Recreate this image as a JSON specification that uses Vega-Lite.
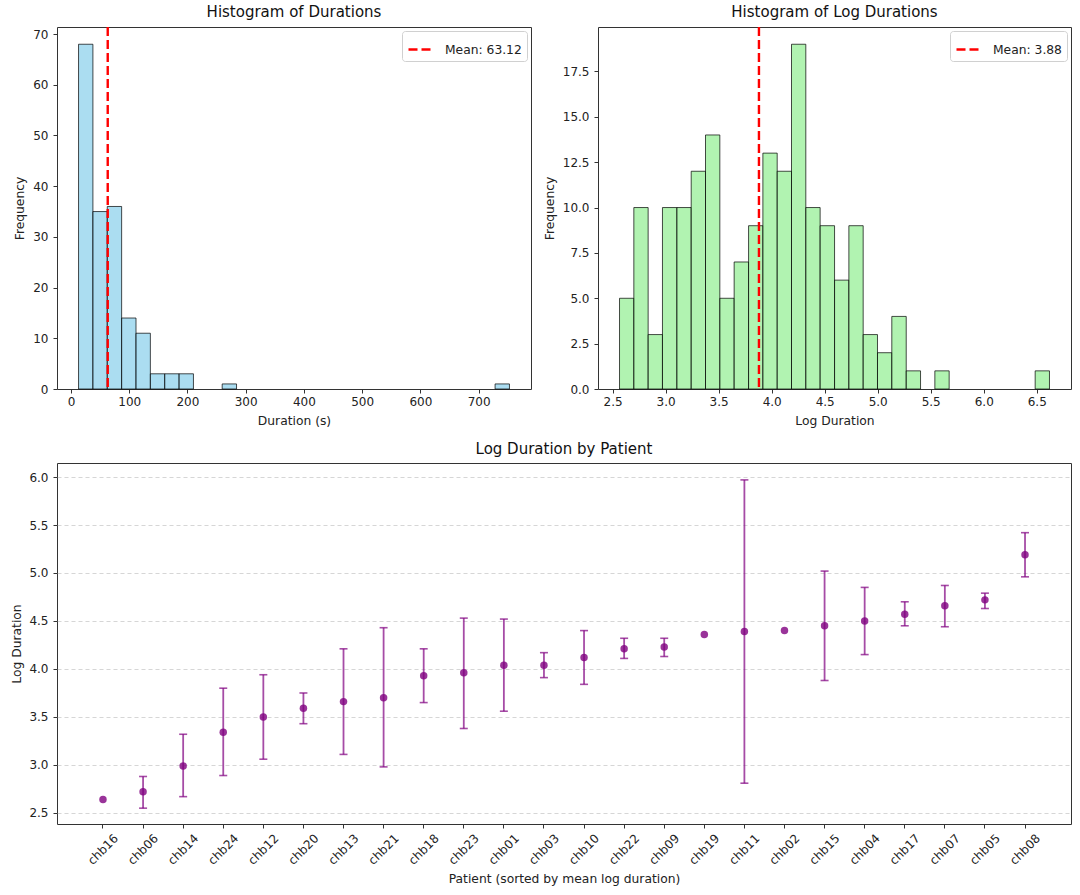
{
  "$schema": "https://vega.github.io/schema/vega-lite/v6.json",
  "description": "Seizure durations: histograms and log duration by patient",
  "padding": {"left": 10, "top": 4, "right": 9, "bottom": 5},
  "background": "white",
  "config": {
    "font": "DejaVu Sans",
    "view": {"stroke": "#333", "strokeWidth": 1},
    "title": {"fontSize": 15, "fontWeight": "normal", "color": "#111", "anchor": "middle", "offset": 6},
    "axis": {
      "domain": false,
      "grid": false,
      "tickSize": 4,
      "tickColor": "#333",
      "labelFontSize": 12,
      "labelColor": "#222",
      "titleFontSize": 12.3,
      "titleFontWeight": "normal",
      "titleColor": "#222"
    },
    "axisX": {"labelPadding": 3, "titlePadding": 7},
    "axisY": {"labelPadding": 5, "titlePadding": 5},
    "legend": {
      "orient": "top-right",
      "offset": 4,
      "padding": 5,
      "strokeColor": "#d0d0d0",
      "fillColor": "white",
      "cornerRadius": 3,
      "labelFontSize": 12.3,
      "labelColor": "#222",
      "symbolType": "stroke",
      "symbolSize": 576,
      "symbolStrokeWidth": 2.4,
      "symbolDash": [9, 4],
      "labelOffset": 11
    }
  },
  "datasets": {
    "durBins": [
      {"start": 13.0, "end": 37.67, "count": 68},
      {"start": 37.67, "end": 62.33, "count": 35},
      {"start": 62.33, "end": 87.0, "count": 36},
      {"start": 87.0, "end": 111.67, "count": 14},
      {"start": 111.67, "end": 136.33, "count": 11},
      {"start": 136.33, "end": 161.0, "count": 3},
      {"start": 161.0, "end": 185.67, "count": 3},
      {"start": 185.67, "end": 210.33, "count": 3},
      {"start": 259.67, "end": 284.33, "count": 1},
      {"start": 728.33, "end": 753.0, "count": 1}
    ],
    "logBins": [
      {"start": 2.565, "end": 2.700, "count": 5},
      {"start": 2.700, "end": 2.835, "count": 10},
      {"start": 2.835, "end": 2.970, "count": 3},
      {"start": 2.970, "end": 3.106, "count": 10},
      {"start": 3.106, "end": 3.241, "count": 10},
      {"start": 3.241, "end": 3.376, "count": 12},
      {"start": 3.376, "end": 3.511, "count": 14},
      {"start": 3.511, "end": 3.646, "count": 5},
      {"start": 3.646, "end": 3.782, "count": 7},
      {"start": 3.782, "end": 3.917, "count": 9},
      {"start": 3.917, "end": 4.052, "count": 13},
      {"start": 4.052, "end": 4.187, "count": 12},
      {"start": 4.187, "end": 4.322, "count": 19},
      {"start": 4.322, "end": 4.457, "count": 10},
      {"start": 4.457, "end": 4.593, "count": 9},
      {"start": 4.593, "end": 4.728, "count": 6},
      {"start": 4.728, "end": 4.863, "count": 9},
      {"start": 4.863, "end": 4.998, "count": 3},
      {"start": 4.998, "end": 5.133, "count": 2},
      {"start": 5.133, "end": 5.269, "count": 4},
      {"start": 5.269, "end": 5.404, "count": 1},
      {"start": 5.539, "end": 5.674, "count": 1},
      {"start": 6.485, "end": 6.620, "count": 1}
    ],
    "patients": [
      {"patient": "chb16", "mean": 2.64, "lo": null, "hi": null},
      {"patient": "chb06", "mean": 2.72, "lo": 2.55, "hi": 2.88},
      {"patient": "chb14", "mean": 2.99, "lo": 2.67, "hi": 3.32},
      {"patient": "chb24", "mean": 3.34, "lo": 2.89, "hi": 3.80},
      {"patient": "chb12", "mean": 3.50, "lo": 3.06, "hi": 3.94},
      {"patient": "chb20", "mean": 3.59, "lo": 3.43, "hi": 3.75},
      {"patient": "chb13", "mean": 3.66, "lo": 3.11, "hi": 4.21},
      {"patient": "chb21", "mean": 3.70, "lo": 2.98, "hi": 4.43},
      {"patient": "chb18", "mean": 3.93, "lo": 3.65, "hi": 4.21},
      {"patient": "chb23", "mean": 3.96, "lo": 3.38, "hi": 4.53},
      {"patient": "chb01", "mean": 4.04, "lo": 3.56, "hi": 4.52},
      {"patient": "chb03", "mean": 4.04, "lo": 3.91, "hi": 4.17},
      {"patient": "chb10", "mean": 4.12, "lo": 3.84, "hi": 4.40},
      {"patient": "chb22", "mean": 4.21, "lo": 4.11, "hi": 4.32},
      {"patient": "chb09", "mean": 4.23, "lo": 4.13, "hi": 4.32},
      {"patient": "chb19", "mean": 4.36, "lo": null, "hi": null},
      {"patient": "chb11", "mean": 4.39, "lo": 2.81, "hi": 5.97},
      {"patient": "chb02", "mean": 4.40, "lo": null, "hi": null},
      {"patient": "chb15", "mean": 4.45, "lo": 3.88, "hi": 5.02},
      {"patient": "chb04", "mean": 4.50, "lo": 4.15, "hi": 4.85},
      {"patient": "chb17", "mean": 4.57, "lo": 4.45, "hi": 4.70},
      {"patient": "chb07", "mean": 4.66, "lo": 4.44, "hi": 4.87},
      {"patient": "chb05", "mean": 4.72, "lo": 4.63, "hi": 4.79},
      {"patient": "chb08", "mean": 5.19, "lo": 4.96, "hi": 5.42}
    ]
  },
  "spacing": 14,
  "vconcat": [
    {
      "spacing": 10,
      "hconcat": [
        {
          "title": "Histogram of Durations",
          "width": 474,
          "height": 362,
          "layer": [
            {
              "data": {"name": "durBins"},
              "mark": {"type": "rect", "fill": "#87ceeb", "fillOpacity": 0.7, "stroke": "black", "strokeOpacity": 0.7, "strokeWidth": 1},
              "encoding": {
                "x": {
                  "field": "start",
                  "type": "quantitative",
                  "title": "Duration (s)",
                  "scale": {"domain": [-24, 790], "nice": false, "zero": false},
                  "axis": {"values": [0, 100, 200, 300, 400, 500, 600, 700]}
                },
                "x2": {"field": "end"},
                "y": {
                  "field": "count",
                  "type": "quantitative",
                  "title": "Frequency",
                  "scale": {"domain": [0, 71.4], "nice": false},
                  "axis": {"values": [0, 10, 20, 30, 40, 50, 60, 70], "titlePadding": 6}
                },
                "y2": {"datum": 0}
              }
            },
            {
              "data": {"values": [{"mean": 63.12, "label": "Mean: 63.12"}]},
              "mark": {"type": "rule", "strokeWidth": 2.4, "strokeDash": [9, 4]},
              "encoding": {
                "x": {"field": "mean", "type": "quantitative"},
                "color": {
                  "field": "label",
                  "type": "nominal",
                  "scale": {"range": ["red"]},
                  "legend": {"title": null}
                }
              }
            }
          ]
        },
        {
          "title": "Histogram of Log Durations",
          "width": 473,
          "height": 362,
          "layer": [
            {
              "data": {"name": "logBins"},
              "mark": {"type": "rect", "fill": "#90ee90", "fillOpacity": 0.7, "stroke": "black", "strokeOpacity": 0.7, "strokeWidth": 1},
              "encoding": {
                "x": {
                  "field": "start",
                  "type": "quantitative",
                  "title": "Log Duration",
                  "scale": {"domain": [2.362, 6.823], "nice": false, "zero": false},
                  "axis": {"values": [2.5, 3.0, 3.5, 4.0, 4.5, 5.0, 5.5, 6.0, 6.5], "format": ".1f"}
                },
                "x2": {"field": "end"},
                "y": {
                  "field": "count",
                  "type": "quantitative",
                  "title": "Frequency",
                  "scale": {"domain": [0, 19.95], "nice": false},
                  "axis": {"values": [0, 2.5, 5, 7.5, 10, 12.5, 15, 17.5], "format": ".1f", "titlePadding": 6}
                },
                "y2": {"datum": 0}
              }
            },
            {
              "data": {"values": [{"mean": 3.88, "label": "Mean: 3.88"}]},
              "mark": {"type": "rule", "strokeWidth": 2.4, "strokeDash": [9, 4]},
              "encoding": {
                "x": {"field": "mean", "type": "quantitative"},
                "color": {
                  "field": "label",
                  "type": "nominal",
                  "scale": {"range": ["red"]},
                  "legend": {"title": null}
                }
              }
            }
          ]
        }
      ],
      "resolve": {"scale": {"color": "independent"}, "legend": {"color": "independent"}}
    },
    {
      "title": "Log Duration by Patient",
      "width": 1014,
      "height": 361,
      "data": {"name": "patients"},
      "encoding": {
        "x": {
          "field": "patient",
          "type": "nominal",
          "title": "Patient (sorted by mean log duration)",
          "scale": {
            "type": "band",
            "paddingInner": 0,
            "paddingOuter": 0.647,
            "domain": ["chb16", "chb06", "chb14", "chb24", "chb12", "chb20", "chb13", "chb21", "chb18", "chb23", "chb01", "chb03", "chb10", "chb22", "chb09", "chb19", "chb11", "chb02", "chb15", "chb04", "chb17", "chb07", "chb05", "chb08"]
          },
          "axis": {"labelAngle": -45, "labelAlign": "center", "labelBaseline": "middle", "labelPadding": 21, "titlePadding": 6}
        }
      },
      "layer": [
        {
          "mark": {"type": "rule", "color": "purple", "opacity": 0.7, "strokeWidth": 1.8},
          "encoding": {
            "y": {
              "field": "lo",
              "type": "quantitative",
              "title": "Log Duration",
              "scale": {"domain": [2.385, 6.146], "nice": false, "zero": false},
              "axis": {
                "values": [2.5, 3.0, 3.5, 4.0, 4.5, 5.0, 5.5, 6.0],
                "format": ".1f",
                "grid": true,
                "gridDash": [4, 3],
                "gridColor": "#cccccc",
                "gridOpacity": 0.8
              }
            },
            "y2": {"field": "hi"}
          }
        },
        {
          "mark": {"type": "tick", "color": "purple", "opacity": 0.7, "size": 8, "thickness": 1.6},
          "encoding": {"y": {"field": "lo", "type": "quantitative"}}
        },
        {
          "mark": {"type": "tick", "color": "purple", "opacity": 0.7, "size": 8, "thickness": 1.6},
          "encoding": {"y": {"field": "hi", "type": "quantitative"}}
        },
        {
          "mark": {"type": "circle", "color": "purple", "opacity": 0.8, "size": 56},
          "encoding": {"y": {"field": "mean", "type": "quantitative"}}
        }
      ]
    }
  ]
}
